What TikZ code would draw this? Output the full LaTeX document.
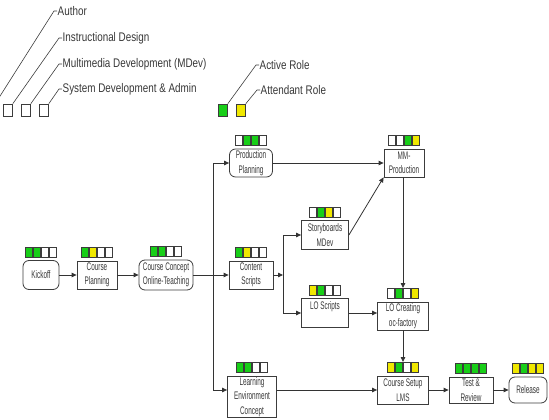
\documentclass[tikz,border=0pt]{standalone}
\usepackage{fontspec}
\setmainfont{Liberation Sans}
\newfontfamily\boxfont{Liberation Sans}[FakeStretch=0.58]
\newfontfamily\keyfont{Liberation Sans}[FakeStretch=0.79]
\usepackage{xcolor}
\definecolor{rolegreen}{RGB}{24,206,24}
\definecolor{roleyellow}{RGB}{240,232,0}
\definecolor{linegray}{RGB}{60,60,60}
\definecolor{textgray}{RGB}{55,55,55}
\usepackage{tikz}
\usetikzlibrary{arrows.meta,positioning}
% four role squares above a task node
\newcommand{\rolebar}[2]{%
  \foreach \c [count=\i from 0] in {#2}
    \node[rolesq,fill=\c,above=3pt of #1.north,xshift={(\i-1.5)*8}] (#1-r\i) {};
}

\begin{document}
\begin{tikzpicture}[
x=1pt,y=-1pt,
task/.style={draw=linegray,line width=0.8pt,fill=white,align=center,inner sep=1pt,minimum width=44pt,minimum height=28pt,font=\boxfont\fontsize{11}{14.5}\selectfont,text=textgray},
roundtask/.style={task,rounded corners=6pt},
rolesq/.style={draw=linegray,line width=0.6pt,minimum width=7pt,minimum height=10pt,inner sep=0pt},
keysq/.style={draw=linegray,line width=0.7pt,minimum width=9pt,minimum height=12pt,inner sep=0pt},
keyline/.style={draw=linegray,line width=0.6pt},
keytext/.style={font=\keyfont\fontsize{12.5}{13}\selectfont,text=textgray,anchor=west,inner sep=0.5pt},
arrow/.style={-{Triangle[length=5pt,width=4.5pt]},line width=0.8pt,draw=black!80}]
\useasboundingbox (0,0) rectangle (549,420);

% legend: roles
\node[keysq] (sqid) at (8,110) {};
\node[keysq] (sqmm) at (26,110) {};
\node[keysq] (sqsys) at (44,110) {};
\coordinate (sqauth) at (-5,104);
\node[keytext] (author) at (57,11) {Author};
\node[keytext] (instr) at (62,38) {Instructional Design};
\node[keytext] (mdev) at (62,64) {Multimedia Development (MDev)};
\node[keytext] (sysdev) at (62,89) {System Development \& Admin};
\draw[keyline] (sqauth) -- ([xshift=-3pt]author.west) -- (author.west);
\draw[keyline] (sqid.north east) -- ([xshift=-3pt]instr.west) -- (instr.west);
\draw[keyline] (sqmm.north east) -- ([xshift=-3pt]mdev.west) -- (mdev.west);
\draw[keyline] (sqsys.north east) -- ([xshift=-3pt]sysdev.west) -- (sysdev.west);
% legend: colours
\node[keysq,fill=rolegreen] (sqactive) at (223,110) {};
\node[keysq,fill=roleyellow] (sqattend) at (241,110) {};
\node[keytext] (active) at (259,65) {Active Role};
\node[keytext] (attend) at (260,90) {Attendant Role};
\draw[keyline] (sqactive.north east) -- ([xshift=-3pt]active.west) -- (active.west);
\draw[keyline] (sqattend.north east) -- ([xshift=-3pt]attend.west) -- (attend.west);

% tasks
\node[roundtask,minimum width=36pt,minimum height=29pt] (kickoff) at (41,275) {Kickoff};
\node[task,minimum width=40pt] (planning) at (97,275) {Course\\Planning};
\node[roundtask,minimum width=54pt,minimum height=30pt] (concept) at (166,275) {Course Concept\\Online-Teaching};
\node[roundtask,minimum width=43pt] (prodplan) at (251,163) {Production\\Planning};
\node[task,minimum width=40pt] (mmprod) at (404,163) {MM-\\Production};
\node[task,minimum width=47pt,minimum height=29pt] (story) at (325,235) {Storyboards\\MDev};
\node[task] (content) at (251,275) {Content\\Scripts};
\node[task,minimum width=47pt,minimum height=29pt] (loscripts) at (325,313) {LO Scripts\\~};
\node[task,minimum width=51pt] (locreate) at (403,316) {LO Creating\\oc-factory};
\node[task,minimum width=49pt,minimum height=41pt] (learnenv) at (252,397) {Learning\\Environment\\Concept};
\node[task,minimum width=51pt] (setup) at (403,390) {Course Setup\\LMS};
\node[task,minimum height=26pt] (review) at (471,390) {Test \&\\Review};
\node[roundtask,minimum width=38pt,minimum height=26pt] (release) at (528,390) {Release};

% roles per task
\rolebar{kickoff}{rolegreen,rolegreen,white,white}
\rolebar{planning}{rolegreen,roleyellow,white,white}
\rolebar{concept}{rolegreen,rolegreen,white,white}
\rolebar{prodplan}{white,rolegreen,rolegreen,white}
\rolebar{mmprod}{white,white,rolegreen,roleyellow}
\rolebar{story}{white,rolegreen,roleyellow,white}
\rolebar{content}{rolegreen,roleyellow,white,white}
\rolebar{loscripts}{roleyellow,rolegreen,white,white}
\rolebar{locreate}{white,rolegreen,white,roleyellow}
\rolebar{learnenv}{rolegreen,rolegreen,white,white}
\rolebar{setup}{roleyellow,rolegreen,white,roleyellow}
\rolebar{review}{rolegreen,rolegreen,rolegreen,rolegreen}
\rolebar{release}{roleyellow,rolegreen,roleyellow,roleyellow}

% flow
\coordinate (trunk) at (213,275);
\coordinate (fork) at (283,275);
\draw[arrow] (kickoff) -- (planning);
\draw[arrow] (planning) -- (concept);
\draw[arrow] (concept) -- (content);
\draw[line width=0.8pt,draw=black!80] (trunk |- prodplan) -- (trunk |- setup);
\draw[arrow] (trunk |- prodplan) -- (prodplan);
\draw[arrow] (trunk |- setup) -- (learnenv.west |- setup);
\draw[arrow] (prodplan) -- (mmprod);
\draw[arrow] (content) -- (fork);
\draw[line width=0.8pt,draw=black!80] (fork |- story) -- (fork |- loscripts);
\draw[arrow] (fork |- story) -- (story);
\draw[arrow] (fork |- loscripts) -- (loscripts);
\draw[arrow] (story.east) -- (mmprod.south west);
\draw[arrow] ([xshift=-1pt]mmprod.south) -- ([xshift=-1pt]mmprod.south |- locreate-r0.north);
\draw[arrow] (loscripts) -- (loscripts -| locreate.west);
\draw[arrow] (locreate.south) -- (locreate.south |- setup-r0.north);
\draw[arrow] (learnenv.east |- setup) -- (setup);
\draw[arrow] (setup) -- (review);
\draw[arrow] (review) -- (release);
\end{tikzpicture}
\end{document}
